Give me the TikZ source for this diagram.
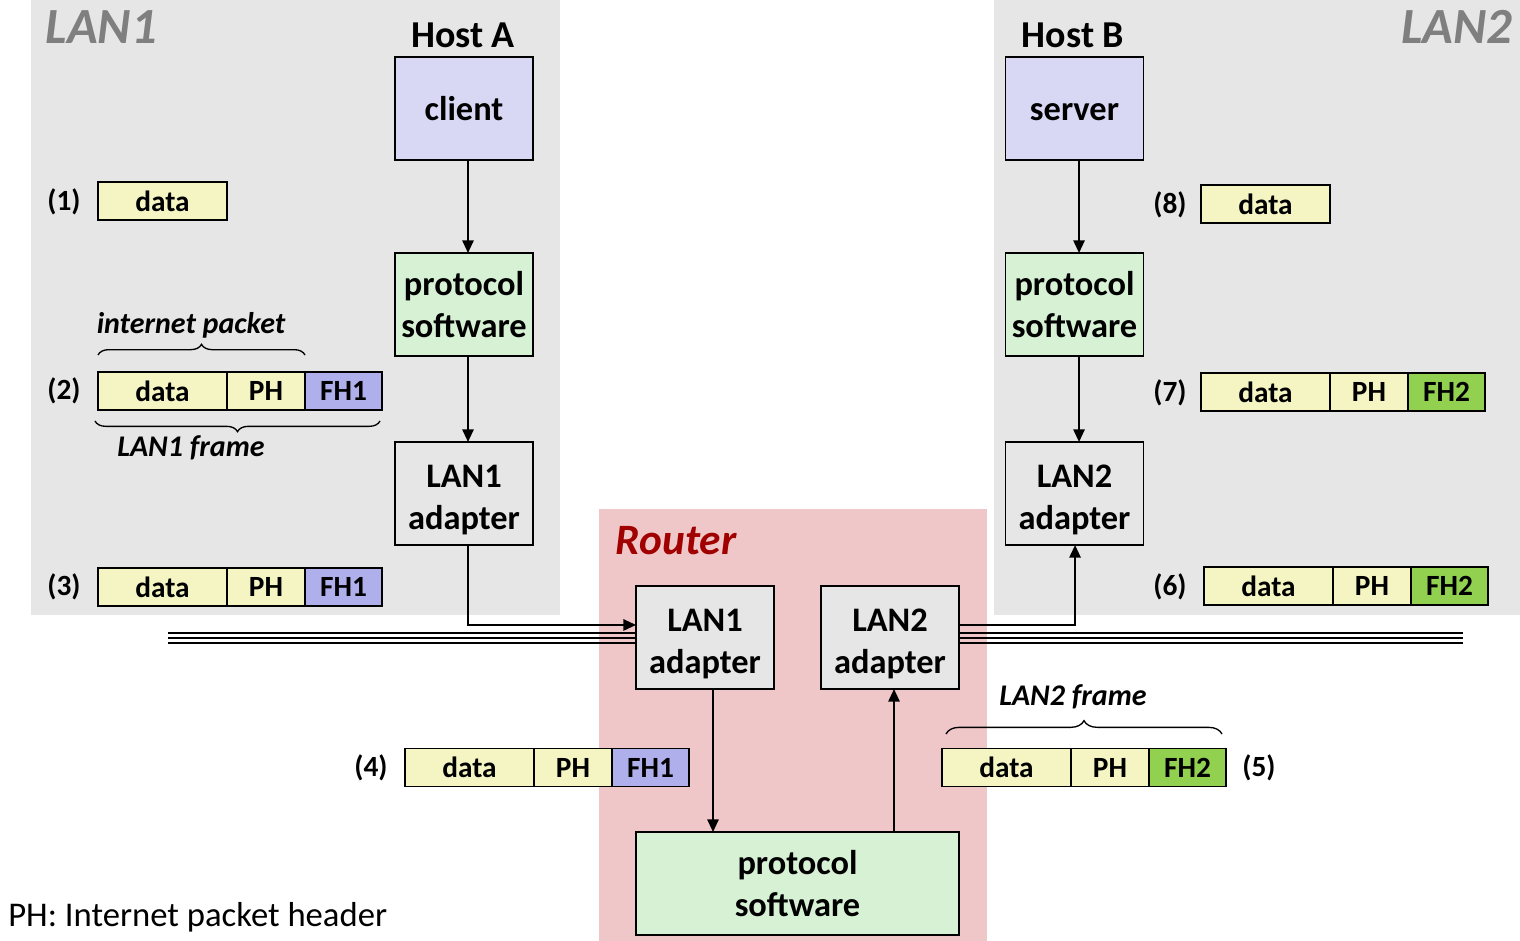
\documentclass[tikz,border=0pt]{standalone}
\usepackage{fontspec}
\setmainfont{Carlito}
\usetikzlibrary{arrows.meta,decorations.pathreplacing,calc}
\definecolor{lanbg}{HTML}{E6E6E6}
\definecolor{routerbg}{HTML}{F0C7C8}
\definecolor{appfill}{HTML}{D8D8F4}
\definecolor{protofill}{HTML}{D6F1D4}
\definecolor{adfill}{HTML}{E6E6E6}
\definecolor{datafill}{HTML}{F5F5C3}
\definecolor{fhone}{HTML}{AFAFEB}
\definecolor{fhtwo}{HTML}{92D050}
\definecolor{langray}{HTML}{7F7F7F}
\definecolor{routerred}{HTML}{A00000}
\newcommand{\lowerline}{\rule{0pt}{26pt}}
\begin{document}
\begin{tikzpicture}[x=0.75pt,y=-0.75pt,
  box/.style={draw, line width=1.4pt, minimum width=103.5pt, minimum height=77.25pt, inner sep=0pt, outer sep=0pt, align=center,
    font=\fontsize{25.8}{31.5}\selectfont\bfseries},
  fld/.style={draw, line width=1.2pt, minimum height=28.5pt, inner sep=0pt, outer sep=0pt, anchor=west,
    font=\fontsize{22}{26}\selectfont\bfseries},
  dat/.style={fld, fill=datafill, minimum width=96.75pt},
  ph/.style={fld, fill=datafill, minimum width=58.5pt},
  fhA/.style={fld, fill=fhone, minimum width=57.75pt},
  fhB/.style={fld, fill=fhtwo, minimum width=57.75pt},
  num/.style={font=\fontsize{22}{26}\selectfont\bfseries},
  host/.style={font=\fontsize{28.5}{32}\selectfont\bfseries},
  lanlbl/.style={font=\fontsize{38}{42}\selectfont\bfseries\itshape, text=langray},
  brlbl/.style={font=\fontsize{22.5}{26}\selectfont\bfseries\itshape},
  arr/.style={line width=1.4pt, -{Triangle[length=9.5pt,width=8.5pt]}},
  brc/.style={decorate, line width=1pt},
  busline/.style={black, line width=2pt},
]
\useasboundingbox (0,0) rectangle (1520,941);
% regions
\fill[lanbg] (31,0) rectangle (560,615);
\fill[lanbg] (994,0) rectangle (1520,615);
\fill[routerbg] (599,509) rectangle (987,941);
\node[lanlbl, anchor=west] (lan1) at (41,27) {LAN1};
\node[lanlbl, anchor=east] (lan2) at (1517,27) {LAN2};
\node[font=\fontsize{32.5}{36}\selectfont\bfseries\itshape, text=routerred, anchor=west] (rlbl) at (611,541) {Router};
% Host A
\node[host] (hA) at (463,35) {Host A};
\node[box, fill=appfill] (cl) at (464,108.5) {client};
\node[box, fill=protofill] (pA) at (464,304.5) {protocol\\software};
\node[box, fill=adfill] (adA) at (464,493.5) {\lowerline LAN1\\adapter};
% Host B
\node[host] (hB) at (1073,35) {Host B};
\node[box, fill=appfill] (sv) at (1074.5,108.5) {server\vphantom{l}};
\node[box, fill=protofill] (pB) at (1074.5,304.5) {protocol\\software};
\node[box, fill=adfill] (adB) at (1074.5,493.5) {\lowerline LAN2\\adapter};
% Router
\node[box, fill=adfill] (rL1) at (705,637.5) {\lowerline LAN1\\adapter};
\node[box, fill=adfill] (rL2) at (890,637.5) {\lowerline LAN2\\adapter};
\node[box, fill=protofill, minimum width=242.25pt] (rP) at (797.5,883.5) {protocol\\software};
% bus (interrupted between the router's adapters)
\coordinate (busL) at (168,638);
\coordinate (busR) at (1463,638);
\foreach \dy in {-5,0,5} {
  \draw[busline] ([yshift=\dy*0.75pt]busL) -- ([yshift=\dy*0.75pt]busL -| rL1.west);
  \draw[busline] ([yshift=\dy*0.75pt]busR -| rL2.east) -- ([yshift=\dy*0.75pt]busR);
}
% arrows
\draw[arr] ([xshift=3pt]cl.south) -- ([xshift=3pt]cl.south |- pA.north);
\draw[arr] ([xshift=3pt]pA.south) -- ([xshift=3pt]pA.south |- adA.north);
\draw[arr] ([xshift=3.4pt]sv.south) -- ([xshift=3.4pt]sv.south |- pB.north);
\draw[arr] ([xshift=3.4pt]pB.south) -- ([xshift=3.4pt]pB.south |- adB.north);
\draw[arr] ([xshift=3pt]adA.south) |- ([yshift=9.4pt]rL1.west);
\draw[arr] ([yshift=9.4pt]rL2.east) -| ([xshift=0.4pt]adB.south);
\draw[arr] ([xshift=6pt]rL1.south) -- ([xshift=6pt]rL1.south |- rP.north);
\draw[arr] ([xshift=3pt]rP.north -| rL2.south) -- ([xshift=3pt]rL2.south);
% packets
\node[num] (n1) at (64,202) {(1)};
\node[dat] (d1) at (98,201) {data};
\node[num] (n2) at (64,391) {(2)};
\node[dat] (d2) at (98,391) {data};
\node[ph] (p2) at (d2.east) {PH};
\node[fhA] (f2) at (p2.east) {FH1};
\node[num] (n3) at (64,587) {(3)};
\node[dat] (d3) at (98,587) {data};
\node[ph] (p3) at (d3.east) {PH};
\node[fhA] (f3) at (p3.east) {FH1};
\node[num] (n4) at (371,768) {(4)};
\node[dat] (d4) at (405,767.5) {data};
\node[ph] (p4) at (d4.east) {PH};
\node[fhA] (f4) at (p4.east) {FH1};
\node[num] (n5) at (1259,768) {(5)};
\node[dat] (d5) at (942,767.5) {data};
\node[ph] (p5) at (d5.east) {PH};
\node[fhB] (f5) at (p5.east) {FH2};
\node[num] (n6) at (1170,587) {(6)};
\node[dat] (d6) at (1204,586) {data};
\node[ph] (p6) at (d6.east) {PH};
\node[fhB] (f6) at (p6.east) {FH2};
\node[num] (n7) at (1170,393) {(7)};
\node[dat] (d7) at (1201,392) {data};
\node[ph] (p7) at (d7.east) {PH};
\node[fhB] (f7) at (p7.east) {FH2};
\node[num] (n8) at (1170,205) {(8)};
\node[dat] (d8) at (1201,204) {data};
% braces
\draw[brc, decoration={brace, amplitude=8pt}] (98,355) -- (305,355);
\node[brlbl] (ip) at (191,325) {internet packet};
\draw[brc, decoration={brace, amplitude=8pt}] (380,421) -- (95,421);
\node[brlbl] (lf1) at (191,448) {LAN1 frame};
\draw[brc, decoration={brace, amplitude=10pt}] (946,734) -- (1222,734);
\node[brlbl] (lf2) at (1073,697) {LAN2 frame};
% footnote
\node[font=\fontsize{26}{30}\selectfont, anchor=west, inner sep=0pt] (note) at (8,917) {PH: Internet packet header};
\end{tikzpicture}
\end{document}
